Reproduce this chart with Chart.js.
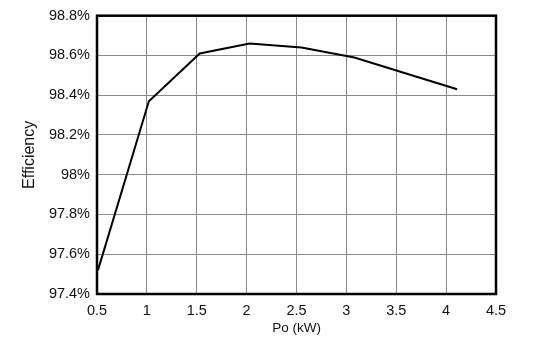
<!DOCTYPE html>
<html>
<head>
<meta charset="utf-8">
<script src="https://cdn.jsdelivr.net/npm/chart.js@4.4.1/dist/chart.umd.min.js"></script>
<style>
  html, body { margin: 0; padding: 0; background: #fff; }
  #wrap { width: 554px; height: 339px; position: relative; }
</style>
</head>
<body>
<div id="wrap"><canvas id="chart"></canvas></div>
<script>
// power output (kW) and efficiency (%)
const powerKw = [0.51, 1.02, 1.53, 2.03, 2.55, 3.08, 4.11];
const efficiency = [97.52, 98.37, 98.61, 98.66, 98.64, 98.59, 98.43];

const xTitle = "Po (kW)";
const yTitle = "Efficiency";

const frame = {
  id: "frame",
  afterDraw(chart) {
    const a = chart.chartArea;
    const ctx = chart.ctx;
    ctx.save();
    ctx.strokeStyle = "#000";
    ctx.lineWidth = 2.5;
    ctx.strokeRect(a.left, a.top, a.right - a.left, a.bottom - a.top);
    ctx.restore();
  }
};

const family = "'Liberation Sans', Arial, sans-serif";
const tickFont = { family: family, size: 14.5 };

new Chart(document.getElementById("chart").getContext("2d"), {
  type: "scatter",
  data: {
    datasets: [{
      data: powerKw.map((x, i) => ({ x: x, y: efficiency[i] })),
      showLine: true,
      borderColor: "#000",
      borderWidth: 2,
      pointRadius: 0,
      tension: 0
    }]
  },
  options: {
    responsive: true,
    maintainAspectRatio: false,
    animation: false,
    layout: { padding: { top: 14, right: 58, bottom: 0, left: 0 } },
    plugins: { legend: { display: false }, tooltip: { enabled: false } },
    scales: {
      x: {
        type: "linear",
        min: 0.5,
        max: 4.5,
        ticks: {
          stepSize: 0.5,
          color: "#111",
          font: tickFont,
          padding: 8,
          callback: v => parseFloat(v.toFixed(1))
        },
        grid: { color: "#8a8a8a", lineWidth: 1, drawTicks: false },
        border: { display: false },
        title: { display: true, text: xTitle, color: "#111", font: { family: family, size: 13.5 }, padding: { top: 0, bottom: 3 } },
        afterFit: s => { s.height = 45; }
      },
      y: {
        min: 97.4,
        max: 98.8,
        ticks: {
          stepSize: 0.2,
          color: "#111",
          font: tickFont,
          padding: 7,
          callback: v => parseFloat(v.toFixed(1)) + "%"
        },
        grid: { color: "#8a8a8a", lineWidth: 1, drawTicks: false },
        border: { display: false },
        title: { display: true, text: yTitle, color: "#111", font: { family: family, size: 16 }, padding: { top: 20, bottom: 0 } },
        afterFit: s => { s.width = 97; }
      }
    }
  },
  plugins: [frame]
});
</script>
</body>
</html>
